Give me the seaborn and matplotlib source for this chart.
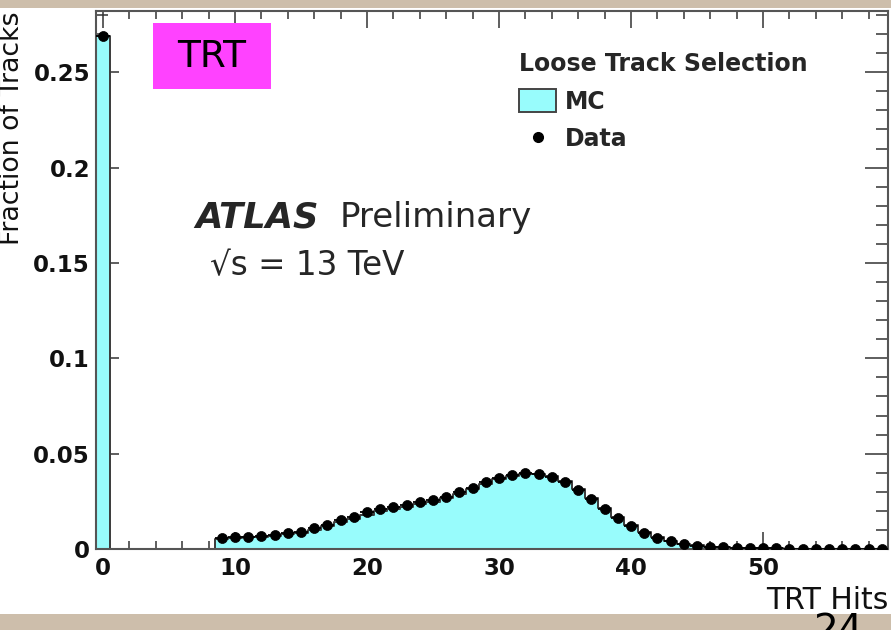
import numpy as np
import pandas as pd
import matplotlib
matplotlib.use("Agg")
import matplotlib.pyplot as plt
import seaborn as sns
from matplotlib.patches import Rectangle, Patch
from matplotlib.lines import Line2D
from matplotlib.ticker import MultipleLocator, FixedLocator, FuncFormatter

# ---------------- data ----------------
trt_hits = list(range(60))
data_frac = [0.269, 0, 0, 0, 0, 0, 0, 0, 0,
             0.0056, 0.0061, 0.0065, 0.0068, 0.0073, 0.0082, 0.0091, 0.0108, 0.0126, 0.0152,
             0.0169, 0.0192, 0.0210, 0.0222, 0.0231, 0.0245, 0.0257, 0.0274, 0.0299, 0.0322,
             0.0349, 0.0372, 0.0388, 0.0397, 0.0395, 0.0380, 0.0352, 0.0310, 0.0262, 0.0210,
             0.0161, 0.0121, 0.0085, 0.0059, 0.0042, 0.0027, 0.0018, 0.0012, 0.0009, 0.0007,
             0.0005, 0.0004, 0.0003, 0.00025, 0.0002, 0.00015, 0.00012, 0.0001, 0.0001, 0.00008,
             0.00008]
mc_frac = [0.269, 0, 0, 0, 0, 0, 0, 0, 0,
           0.0052, 0.0057, 0.0061, 0.0064, 0.0069, 0.0077, 0.0086, 0.0101, 0.0119, 0.0142,
           0.0159, 0.0180, 0.0198, 0.0211, 0.0221, 0.0234, 0.0247, 0.0265, 0.0289, 0.0314,
           0.0341, 0.0366, 0.0384, 0.0395, 0.0395, 0.0381, 0.0355, 0.0316, 0.0268, 0.0216,
           0.0166, 0.0124, 0.0088, 0.0061, 0.0043, 0.0028, 0.0019, 0.0013, 0.0009, 0.0007,
           0.0005, 0.0004, 0.0003, 0.00025, 0.0002, 0.00015, 0.00012, 0.0001, 0.0001, 0.00008,
           0.00008]
x_ticks = [0, 10, 20, 30, 40, 50]
y_ticks = [0, 0.05, 0.1, 0.15, 0.2, 0.25]

CYAN = "#98fcfc"
MAGENTA = "#ff42ff"
BEIGE = "#cdbeab"
EDGE = "#3a3a3a"

sns.set_theme(style="white")
plt.rcParams["font.family"] = ["DejaVu Sans"]

fig = plt.figure(figsize=(8.91, 6.3), dpi=100)
fig.patch.set_facecolor("white")

ax = fig.add_axes([96.4 / 891, 81 / 630, 792 / 891, 538 / 630])
ax.set_facecolor("white")

edges = [i - 0.5 for i in range(61)]
mc_df = pd.DataFrame({"hits": trt_hits, "frac": mc_frac})
sns.histplot(data=mc_df, x="hits", weights="frac", bins=edges, element="step", fill=True,
             color=CYAN, alpha=1, edgecolor=EDGE, linewidth=1.4, ax=ax)

df = pd.DataFrame({"hits": trt_hits, "frac": data_frac})
df = df[df["frac"] > 0]
ax.errorbar(df["hits"], df["frac"], xerr=0.5, fmt="none", ecolor="black",
            elinewidth=1.3, zorder=4)
sns.scatterplot(data=df, x="hits", y="frac", color="black", s=52,
                edgecolor="black", linewidth=0.5, zorder=5, ax=ax, legend=False)

ax.set_xlim(-0.5, 59.5)
ax.set_ylim(0, 0.2821)

ax.xaxis.set_major_locator(FixedLocator(x_ticks))
ax.xaxis.set_minor_locator(MultipleLocator(2))
ax.yaxis.set_major_locator(FixedLocator(y_ticks))
ax.yaxis.set_minor_locator(MultipleLocator(0.01))
ax.xaxis.set_major_formatter(FuncFormatter(lambda v, p: f"{v:g}"))
ax.yaxis.set_major_formatter(FuncFormatter(lambda v, p: f"{v:g}"))

ax.tick_params(axis="x", which="major", direction="in", length=12, width=1.1,
               color="#333333", top=True, bottom=True, pad=6, labelsize=16.5)
ax.tick_params(axis="x", which="minor", direction="in", length=5.8, width=1.1,
               color="#333333", top=True, bottom=True)
ax.tick_params(axis="y", which="major", direction="in", length=16.5, width=1.1,
               color="#333333", left=True, right=True, pad=4.6, labelsize=16.5)
ax.tick_params(axis="y", which="minor", direction="in", length=8.6, width=1.1,
               color="#333333", left=True, right=True)
for lab in ax.get_xticklabels() + ax.get_yticklabels():
    lab.set_fontweight("bold")
    lab.set_color("#111111")

for s in ax.spines.values():
    s.set_color("#555555")
    s.set_linewidth(1.5)

ax.set_xlabel("TRT Hits", loc="right", fontsize=21.5, color="#111111", labelpad=4)
ax.set_ylabel("Fraction of Tracks", fontsize=19.3, color="#111111")
ax.yaxis.set_label_coords(-0.0907, 0.7825)

# annotations
ax.text(0.1245, 0.5985, "ATLAS", transform=ax.transAxes, fontsize=25.5,
        fontweight="bold", fontstyle="italic", va="baseline", ha="left")
ax.text(0.3076, 0.5985, "Preliminary", transform=ax.transAxes, fontsize=24.5,
        va="baseline", ha="left")
ax.text(0.1434, 0.5093, "\u221as = 13 TeV", transform=ax.transAxes, fontsize=23.5,
        va="baseline", ha="left")

ax.add_patch(Rectangle((0.0715, 0.855), 0.149, 0.1227, transform=ax.transAxes,
                       facecolor=MAGENTA, edgecolor="none", zorder=6))
ax.text(0.146, 0.9145, "TRT", transform=ax.transAxes, fontsize=27,
        ha="center", va="center", color="black", zorder=7)

handles = [Patch(facecolor=CYAN, edgecolor="#444444", linewidth=1.4, label="MC"),
           Line2D([], [], marker="o", color="black", linestyle="none",
                  markersize=7, label="Data")]
leg = ax.legend(handles=handles, title="Loose Track Selection", loc="upper left",
                bbox_to_anchor=(0.5336, 0.9238), frameon=False, borderpad=0,
                borderaxespad=0, handlelength=1.57, handleheight=1.15,
                handletextpad=0.38, labelspacing=0.55, alignment="left",
                prop={"weight": "bold", "size": 17},
                title_fontproperties={"weight": "bold", "size": 17})

# slide background strips and page number
fig.patches.append(Rectangle((0, 622 / 630), 1, 8 / 630, transform=fig.transFigure,
                             facecolor=BEIGE, edgecolor="none", zorder=5))
fig.patches.append(Rectangle((0, 0), 1, 16 / 630, transform=fig.transFigure,
                             facecolor=BEIGE, edgecolor="none", zorder=5))
fig.text(838 / 891, (630 - 612) / 630, "24", fontsize=28, ha="center", va="top",
         color="black", zorder=6)

fig.savefig("out.png", dpi=100, facecolor=fig.get_facecolor())
